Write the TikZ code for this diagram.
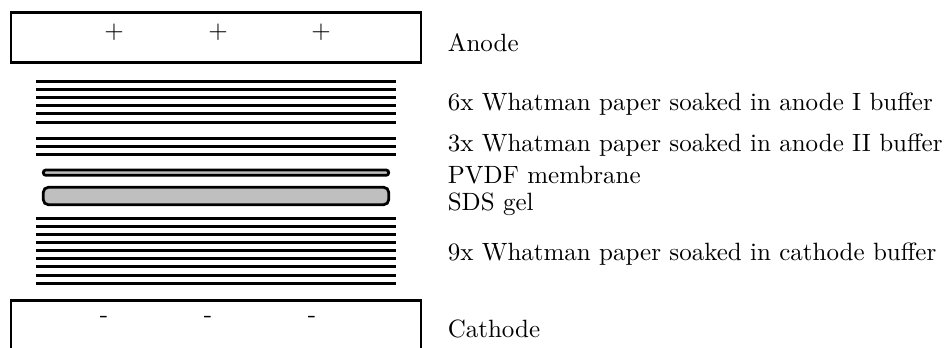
\documentclass[tikz,border=0pt]{standalone}
\begin{document}
\begin{tikzpicture}[x=0.4pt, y=-0.4pt,
  electrode/.style={draw=black, line width=1.1pt},
  sheet/.style={draw=black, line width=1.2pt},
  layer/.style={draw=black, fill=black!25, rounded corners=2pt, line width=1.1pt},
  sign/.style={inner sep=0pt, anchor=base},
  lbl/.style={anchor=base west, inner sep=0pt}]
\useasboundingbox (0,0) rectangle (952,347);
\clip (0,0) rectangle (952,347);
% anode
\draw[electrode] (11,12.7) rectangle (421,62.3);
\foreach [count=\i] \x in {114,218,321} \node[sign] (plus\i) at (\x,38) {$+$};
\node[lbl] (anode) at (447.3,51.7) {Anode};
% 6x anode I
\foreach \y in {81,89.2,97.4,105.6,113.8,122} \draw[sheet] (36,\y) -- (396,\y);
\node[lbl] (anodeI) at (447.3,110) {6x Whatman paper soaked in anode I buffer};
% 3x anode II
\foreach \y in {138.7,146.7,154.7} \draw[sheet] (36,\y) -- (396,\y);
\node[lbl] (anodeII) at (447.3,151.7) {3x Whatman paper soaked in anode II buffer};
% membrane and gel
\draw[layer, rounded corners=1pt] (43.3,170) rectangle (388.7,175.3);
\node[lbl] (pvdf) at (447.3,183.3) {PVDF membrane};
\draw[layer] (43.3,187.3) rectangle (388.7,204.7);
\node[lbl] (gel) at (447.3,210) {SDS gel};
% 9x cathode
\foreach \k in {0,...,8} \draw[sheet] (36,{218+\k*8.16}) -- (396,{218+\k*8.16});
\node[lbl] (cathodebuf) at (447.3,260.7) {9x Whatman paper soaked in cathode buffer};
% cathode
\draw[electrode] (11,300.7) rectangle (421,360);
\foreach [count=\i] \x in {104,208,312} \node[sign] (minus\i) at (\x,322.7) {-};
\node[lbl] (cathode) at (447.3,337.3) {Cathode};
\end{tikzpicture}
\end{document}
